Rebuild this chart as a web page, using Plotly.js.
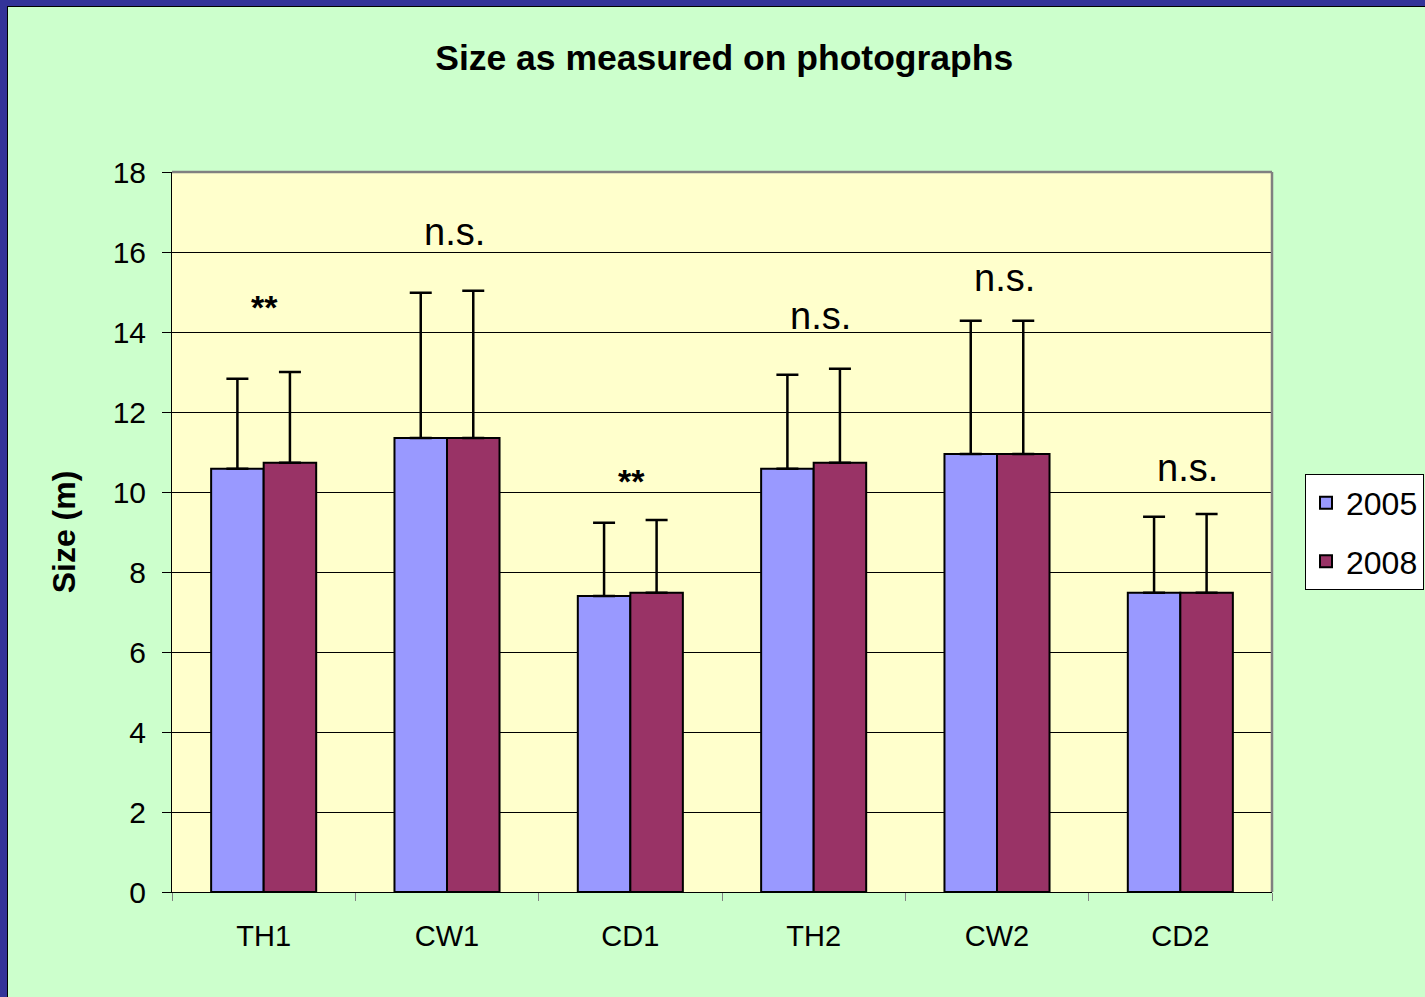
<!DOCTYPE html>
<html>
<head>
<meta charset="utf-8">
<script src="https://cdn.plot.ly/plotly-3.0.1.min.js"></script>
<style>
  html, body { margin: 0; padding: 0; background: #333399; width: 1425px; height: 997px; overflow: hidden; }
  #chart { position: absolute; left: 7px; top: 6px; width: 1418px; height: 991px;
           border-left: 1px solid #000; border-top: 1px solid #000; box-sizing: border-box; background: #CCFFCC; }
</style>
</head>
<body>
<div id="chart"></div>
<script>
const categories = ["TH1", "CW1", "CD1", "TH2", "CW2", "CD2"];
const size2005 = [10.58, 11.35, 7.40, 10.58, 10.95, 7.48];
const size2008 = [10.73, 11.35, 7.48, 10.73, 10.95, 7.48];
const sd2005 = [2.25, 3.63, 1.83, 2.35, 3.33, 1.90];
const sd2008 = [2.27, 3.68, 1.82, 2.35, 3.33, 1.97];
const sigLabels = ["**", "n.s.", "**", "n.s.", "n.s.", "n.s."];
const sigY = [14.62, 16.5, 10.28, 14.4, 15.35, 10.6];

const FONT = "Liberation Sans, Arial, sans-serif";

const traces = [
  {
    type: "bar", name: "2005", legendgroup: "g2005", x: categories, y: size2005,
    marker: { color: "#9999FF", line: { color: "#000", width: 2 } },
    error_y: { type: "data", array: sd2005, symmetric: false, arrayminus: sd2005.map(() => 0),
               color: "#000", thickness: 2.5, width: 11 }
  },
  {
    type: "bar", name: "2008", legendgroup: "g2008", x: categories, y: size2008,
    marker: { color: "#993366", line: { color: "#000", width: 2 } },
    error_y: { type: "data", array: sd2008, symmetric: false, arrayminus: sd2008.map(() => 0),
               color: "#000", thickness: 2.5, width: 11 }
  }
];

const annotations = categories.map((c, i) => {
  const isNs = sigLabels[i] !== "**";
  return {
    x: c, y: sigY[i], xref: "x", yref: "y",
    text: isNs ? sigLabels[i] : "<b>" + sigLabels[i] + "</b>",
    showarrow: false,
    yanchor: "middle", xshift: isNs ? 7 : 1,
    font: { family: FONT, size: isNs ? 38 : 34, color: "#000" }
  };
});

const layout = {
  width: 1417, height: 990,
  margin: { l: 164, t: 165, r: 153, b: 105, autoexpand: false },
  paper_bgcolor: "#CCFFCC",
  plot_bgcolor: "#FFFFCC",
  font: { family: FONT, color: "#000" },
  title: {
    text: "<b>Size as measured on photographs</b>",
    font: { family: FONT, size: 35.5, color: "#000" },
    x: 0.502, xanchor: "center", xref: "paper",
    y: 1 - 51 / 990, yref: "container", yanchor: "middle"
  },
  barmode: "group",
  bargap: 0.427,
  bargroupgap: 0,
  xaxis: {
    type: "category",
    showline: true, linecolor: "#000", linewidth: 1,
    ticks: "outside", tickson: "boundaries", ticklen: 8, tickcolor: "#808080",
    ticklabelstandoff: 18,
    tickfont: { family: FONT, size: 29, color: "#000" },
    showgrid: false
  },
  yaxis: {
    range: [0, 18], dtick: 2, tick0: 0,
    showline: true, linecolor: "#000", linewidth: 1,
    ticks: "outside", ticklen: 9, tickcolor: "#000",
    ticklabelstandoff: 10,
    tickfont: { family: FONT, size: 30, color: "#000" },
    showgrid: true, gridcolor: "#000", gridwidth: 1,
    zeroline: false,
    title: { text: "<b>Size (m)</b>", font: { family: FONT, size: 32, color: "#000" }, standoff: 27 }
  },
  legend: {
    x: 1.03, xanchor: "left", y: 0.58, yanchor: "top",
    bgcolor: "#FFFFFF", bordercolor: "#000", borderwidth: 1,
    font: { family: FONT, size: 32, color: "#000" },
    tracegroupgap: 14
  },
  showlegend: true,
  annotations: annotations,
  shapes: [
    { type: "line", xref: "paper", yref: "paper", x0: 0, x1: 1, y0: 1, y1: 1, line: { color: "#808080", width: 2.5 }, layer: "above" },
    { type: "line", xref: "paper", yref: "paper", x0: 1, x1: 1, y0: 0, y1: 1, line: { color: "#808080", width: 2.5 }, layer: "above" }
  ]
};

Plotly.newPlot("chart", traces, layout, { displayModeBar: false, responsive: false });
</script>
</body>
</html>
